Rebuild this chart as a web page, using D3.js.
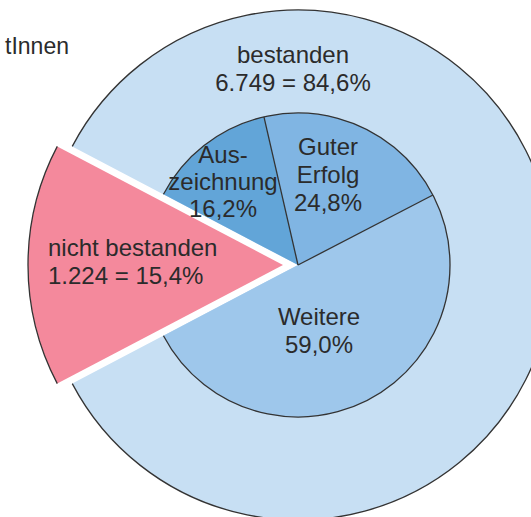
<!DOCTYPE html>
<html>
<head>
<meta charset="utf-8">
<script src="https://cdn.jsdelivr.net/npm/d3@7"></script>
<style>
  body { margin: 0; background: #fff; }
  text { font-family: "Liberation Sans", Arial, sans-serif; fill: #2b2b2b; }
</style>
</head>
<body>
<svg class="ring"></svg>
<script>
// outer ring: bestanden / nicht bestanden
var outerNames = ["bestanden", "nicht bestanden"];
var outerCounts = ["6.749", "1.224"];
var outerPct = [84.6, 15.4];
// inner pie: split of "bestanden"
var innerNames = [["Aus-", "zeichnung"], ["Guter", "Erfolg"], ["Weitere"]];
var innerPct = [16.2, 24.8, 59.0];
var titleText = "tInnen";

function fmt(v){ return v.toFixed(1).replace(".", ",") + "%"; }

function drawRing(){
  var width = 531, height = 517;
  var cx = 298, cy = 265, R = 255, r = 152, explode = 15;

  var outerColors = ["#c7dff3", "#f4899c"];
  var innerColors = ["#62a5d8", "#80b5e3", "#9ec7eb"];

  var svg = d3.select(".ring")
      .attr("width", width)
      .attr("height", height);

  svg.append("text")
      .attr("x", 69)
      .attr("y", 54)
      .attr("text-anchor", "end")
      .style("font-size", "23px")
      .text(titleText);

  var g = svg.append("g")
      .attr("transform", "translate(" + cx + "," + cy + ")");

  // red slice centred on the left side
  var half = outerPct[1] / 100 * Math.PI;
  var start = -Math.PI / 2 + half;

  var pie = d3.pie()
      .sort(null)
      .value(function(d) { return d; })
      .startAngle(start)
      .endAngle(start + 2 * Math.PI);

  var outer = pie(outerPct);
  var best = outer[0];

  var inner = d3.pie()
      .sort(null)
      .value(function(d) { return d; })
      .startAngle(best.startAngle)
      .endAngle(best.endAngle)(innerPct);

  var arcR = d3.arc().innerRadius(0).outerRadius(R);
  var arcr = d3.arc().innerRadius(0).outerRadius(r);

  function shift(d, k){
    var m = (d.startAngle + d.endAngle) / 2;
    return [Math.sin(m) * k, -Math.cos(m) * k];
  }

  function rim(d, rad){
    var p = d3.path();
    p.arc(0, 0, rad, d.startAngle - Math.PI / 2, d.endAngle - Math.PI / 2);
    return p.toString();
  }

  var os = g.selectAll(".outer")
      .data(outer)
    .enter().append("g")
      .attr("class", "outer")
      .attr("transform", function(d, i) {
        var s = i == 1 ? shift(d, explode) : [0, 0];
        return "translate(" + s[0] + "," + s[1] + ")";
      });

  os.append("path")
      .attr("d", arcR)
      .attr("fill", function(d, i) { return outerColors[i]; });

  os.append("path")
      .attr("d", function(d) { return rim(d, R); })
      .attr("fill", "none")
      .attr("stroke", "#333")
      .attr("stroke-width", 1.3);

  g.selectAll(".inner")
      .data(inner)
    .enter().append("path")
      .attr("class", "inner")
      .attr("d", arcr)
      .attr("fill", function(d, i) { return innerColors[i]; });

  g.append("path")
      .attr("d", rim(best, r))
      .attr("fill", "none")
      .attr("stroke", "#333")
      .attr("stroke-width", 1.3);

  // separators between inner slices
  g.selectAll(".sep")
      .data(inner.slice(1))
    .enter().append("line")
      .attr("class", "sep")
      .attr("x1", 0).attr("y1", 0)
      .attr("x2", function(d) { return Math.sin(d.startAngle) * r; })
      .attr("y2", function(d) { return -Math.cos(d.startAngle) * r; })
      .attr("stroke", "#333")
      .attr("stroke-width", 1.3);

  // labels (offsets from centre, first baseline)
  var outerPos = [[-5, -202, "middle"], [-250, -9, "start"]];
  var innerPos = [[-75, -102], [30, -110], [21, 60]];
  var lh = 28;

  outer.forEach(function(d, i) {
    var t = g.append("text")
        .attr("text-anchor", outerPos[i][2])
        .style("font-size", "24px");
    t.append("tspan").attr("x", outerPos[i][0]).attr("y", outerPos[i][1])
        .text(outerNames[i]);
    t.append("tspan").attr("x", outerPos[i][0]).attr("y", outerPos[i][1] + lh)
        .text(outerCounts[i] + " = " + fmt(outerPct[i]));
  });

  inner.forEach(function(d, i) {
    var lines = innerNames[i].concat([fmt(innerPct[i])]);
    var t = g.append("text")
        .attr("text-anchor", "middle")
        .style("font-size", "24px");
    lines.forEach(function(s, j) {
      t.append("tspan")
          .attr("x", innerPos[i][0])
          .attr("y", innerPos[i][1] + j * (i == 0 ? 27 : lh))
          .text(s);
    });
  });
}

drawRing();
</script>
</body>
</html>
